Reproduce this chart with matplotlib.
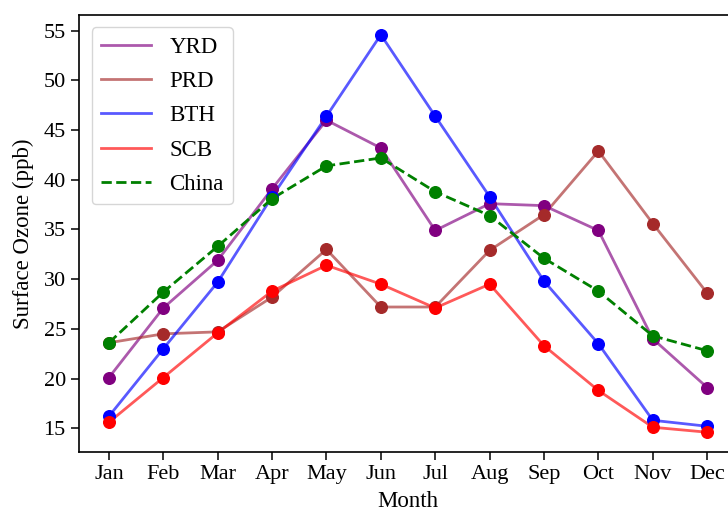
import matplotlib
matplotlib.use("Agg")
import matplotlib.pyplot as plt

plt.rcParams['font.family'] = ['Liberation Serif', 'DejaVu Serif']

months = ['Jan', 'Feb', 'Mar', 'Apr', 'May', 'Jun', 'Jul', 'Aug', 'Sep', 'Oct', 'Nov', 'Dec']
yrd = [20.1, 27.1, 31.9, 39.1, 46.0, 43.2, 34.9, 37.6, 37.4, 34.9, 24.0, 19.1]
prd = [23.6, 24.5, 24.7, 28.2, 33.0, 27.2, 27.2, 32.9, 36.5, 42.9, 35.6, 28.6]
bth = [16.2, 23.0, 29.7, 38.3, 46.4, 54.6, 46.4, 38.3, 29.8, 23.5, 15.8, 15.2]
scb = [15.6, 20.1, 24.6, 28.8, 31.4, 29.5, 27.1, 29.5, 23.3, 18.8, 15.1, 14.6]
china = [23.6, 28.7, 33.3, 38.1, 41.4, 42.2, 38.8, 36.4, 32.1, 28.8, 24.3, 22.8]

series = [
    ('YRD', yrd, 'purple', '-'),
    ('PRD', prd, 'brown', '-'),
    ('BTH', bth, 'blue', '-'),
    ('SCB', scb, 'red', '-'),
    ('China', china, 'green', '--'),
]

fig = plt.figure(figsize=(7.28, 5.12), dpi=100)
ax = fig.add_axes([0.1085, 0.117, 0.904, 0.854])

x = list(range(len(months)))
for name, vals, color, ls in series:
    alpha = 1.0 if ls == '--' else 0.65
    ax.plot(x, vals, color=color, linestyle=ls, linewidth=2.0, alpha=alpha, label=name)
    ax.scatter(x, vals, color=color, s=70, zorder=3)

ax.set_xticks(x)
ax.set_xticklabels(months)
ax.set_yticks([15, 20, 25, 30, 35, 40, 45, 50, 55])
ax.tick_params(labelsize=16, length=6, width=1.1)
ax.set_xlabel('Month', fontsize=16.5, labelpad=5)
ax.set_ylabel('Surface Ozone (ppb)', fontsize=16.5, labelpad=7)
for sp in ax.spines.values():
    sp.set_linewidth(1.2)

ax.legend(loc='upper left', fontsize=16.5, handlelength=2.2, borderpad=0.4,
          labelspacing=0.58, handletextpad=0.8, borderaxespad=0.55)

fig.savefig('out.png', dpi=100)
